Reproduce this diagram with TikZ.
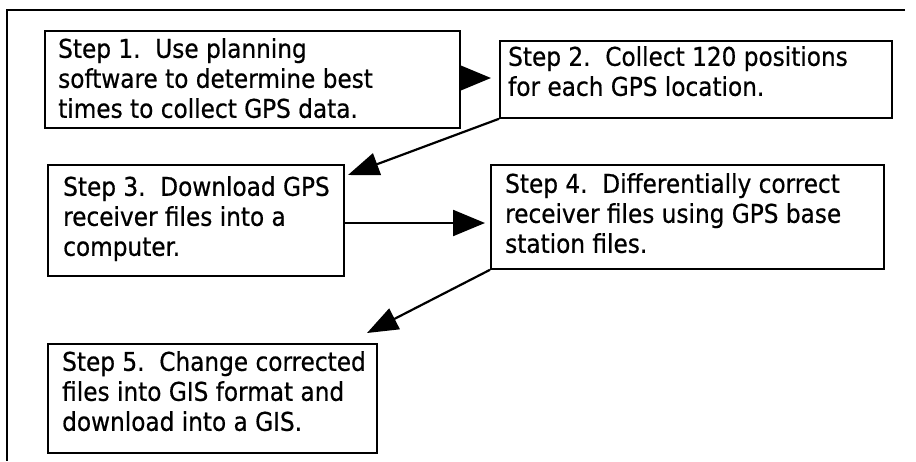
\documentclass[tikz,border=0pt]{standalone}
\usepackage{fontspec}
\setmainfont{DejaVu Sans Condensed}[FakeBold=0.6]
\usetikzlibrary{arrows.meta}
\begin{document}
\frenchspacing
\begin{tikzpicture}[x=1pt,y=-1pt,
  stepbox/.style={draw=black,line width=1.8pt,rectangle,inner sep=0pt,anchor=north west},
  steptext/.style={anchor=north west,inner sep=0pt,align=left,font=\fontsize{25.8}{30}\selectfont},
  flow/.style={line width=2.2pt,-{Triangle[length=32pt,width=26pt]}},
  flowd/.style={line width=2.2pt,-{Triangle[length=31pt,width=23pt]}}]
\useasboundingbox (0,0) rectangle (916,461);
% frame
\draw[line width=2.2pt] (905,10) -- (7,10) -- (7,461);
% boxes
\node[stepbox,minimum width=415pt,minimum height=97pt] (b1) at (44,30) {};
\node[stepbox,minimum width=392pt,minimum height=77pt] (b2) at (499,40) {};
\node[stepbox,minimum width=296pt,minimum height=111pt] (b3) at (47,164) {};
\node[stepbox,minimum width=393pt,minimum height=104pt] (b4) at (490,164) {};
\node[stepbox,minimum width=329pt,minimum height=109pt] (b5) at (47,343) {};
% texts
\node[steptext] (t1) at (58,38) {Step 1.\ \ Use planning\\software to determine best\\times to collect GPS data.};
\node[steptext] (t2) at (508,46) {Step 2.\ \ Collect 120 positions\\for each GPS location.};
\node[steptext] (t3) at (63,176) {Step 3.\ \ Download GPS\\receiver\ files into a\\computer.};
\node[steptext] (t4) at (505,173) {Step 4.\ \ Differentially correct\\receiver\ files using GPS base\\station\ files.};
\node[steptext] (t5) at (62,351) {Step 5.\ \ Change corrected\\files into GIS format and\\download into a GIS.};
% arrow tips
\coordinate (p12) at (491,78);
\coordinate (q12) at (459,78);
\coordinate (p23) at (348,175);
\coordinate (q34) at (343,223);
\coordinate (p34) at (485,223);
\coordinate (p45) at (367,333);
% connectors
\draw[flow] (q12 -| b1.east) -- (p12);
\draw[flowd] (b2.south west) -- (p23);
\draw[flow] (q34 -| b3.east) -- (p34);
\draw[flowd] (b4.south west) -- (p45);
\end{tikzpicture}
\end{document}
